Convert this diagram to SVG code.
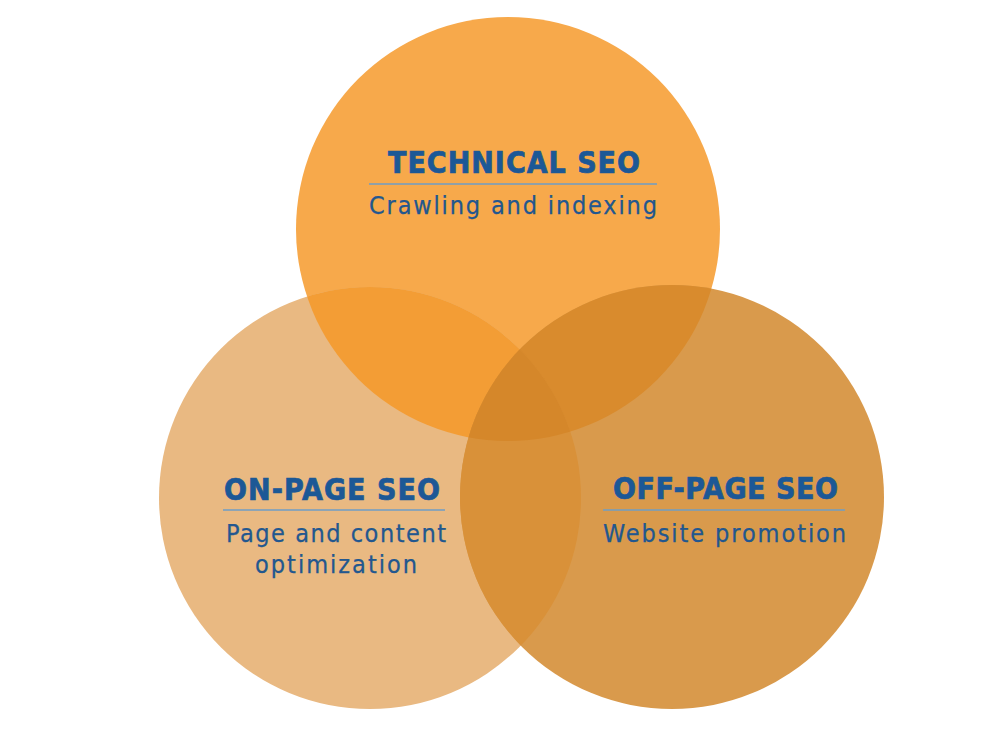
<svg xmlns="http://www.w3.org/2000/svg" width="1000" height="750" viewBox="0 0 1000 750">
<style>
.title{font-family:"DejaVu Sans Condensed","DejaVu Sans","Liberation Sans",sans-serif;font-stretch:condensed;font-weight:bold;font-size:30px;fill:#1C5896;stroke:#1C5896;stroke-width:0.7}
.sub{font-family:"DejaVu Sans Condensed","DejaVu Sans","Liberation Sans",sans-serif;font-stretch:condensed;font-size:25px;fill:#22578F;stroke:#22578F;stroke-width:0.25}
.rule{stroke:#6E9EC6;stroke-width:1.6}
</style>
<defs>
<clipPath id="cT"><circle cx="508" cy="229" r="212"/></clipPath>
<clipPath id="cL"><circle cx="370" cy="498" r="211"/></clipPath>
</defs>
<rect width="1000" height="750" fill="#ffffff"/>
<g id="circles">
<circle cx="508" cy="229" r="212" fill="#F7A94B"/>
<circle cx="370" cy="498" r="211" fill="#E9B982"/>
<circle cx="672" cy="497" r="212" fill="#D99A4C"/>
<circle cx="370" cy="498" r="211" fill="#F39D35" clip-path="url(#cT)"/>
<circle cx="672" cy="497" r="212" fill="#D98B2D" clip-path="url(#cT)"/>
<circle cx="672" cy="497" r="212" fill="#D99139" clip-path="url(#cL)"/>
<g clip-path="url(#cT)"><circle cx="672" cy="497" r="212" fill="#D5872A" clip-path="url(#cL)"/></g>
</g>
<g id="technical">
<text class="title" x="388" y="173" textLength="252" lengthAdjust="spacing">TECHNICAL SEO</text>
<line class="rule" x1="369" y1="184" x2="657" y2="184"/>
<text class="sub" x="369" y="214" textLength="288" lengthAdjust="spacing">Crawling and indexing</text>
</g>
<g id="onpage">
<text class="title" x="224" y="500" textLength="216" lengthAdjust="spacing">ON-PAGE SEO</text>
<line class="rule" x1="223" y1="510" x2="445" y2="510"/>
<text class="sub" x="226" y="542" textLength="220" lengthAdjust="spacing">Page and content</text>
<text class="sub" x="255" y="573" textLength="162" lengthAdjust="spacing">optimization</text>
</g>
<g id="offpage">
<text class="title" x="613" y="499" textLength="225" lengthAdjust="spacing">OFF-PAGE SEO</text>
<line class="rule" x1="603" y1="510" x2="845" y2="510"/>
<text class="sub" x="603" y="542" textLength="243" lengthAdjust="spacing">Website promotion</text>
</g>
<g id="connectors"></g>
</svg>
